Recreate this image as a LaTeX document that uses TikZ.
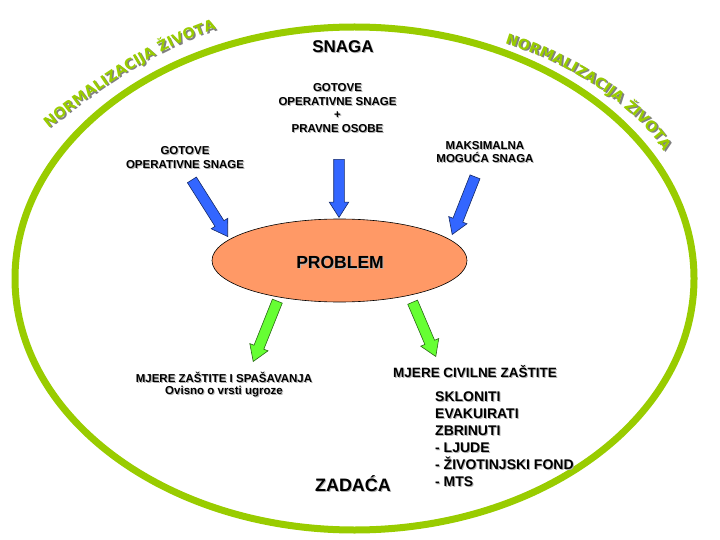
\documentclass[tikz,border=0pt]{standalone}
\usepackage{fontspec}
\setmainfont{Liberation Sans}
\newfontfamily\heavyfont{DejaVu Sans}
\usetikzlibrary{shapes.geometric,shapes.arrows,decorations.text}
\definecolor{ringgreen}{HTML}{99CC00}
\definecolor{probfill}{HTML}{FF9966}
\definecolor{arrblue}{HTML}{3366FF}
\definecolor{arrgreen}{HTML}{66FF33}
\newcommand{\curvefont}{\heavyfont\fontsize{14.5}{14.5}\selectfont\bfseries}
% text with a light drop shadow
\newcommand{\shlabel}[4][]{%
  \node[#1, text=black!30, xshift=1pt, yshift=-1pt] at (#3) {#4};
  \node[#1] (#2) at (#3) {#4};}

\begin{document}
\begin{tikzpicture}[x=1pt, y=-1pt,
  lbl/.style={font=\fontsize{11.5}{13.5}\selectfont\bfseries, align=center, inner sep=0pt},
  big/.style={font=\fontsize{#1}{#1}\selectfont\bfseries, inner sep=0pt},
  barrow/.style={single arrow, draw=#1!40!black, fill=#1, line width=0.6pt, inner sep=0pt, inner ysep=5pt,
    single arrow head extend=4.5pt, single arrow tip angle=65, anchor=tip},
  ringtext/.style={decorate, decoration={text along path, text align=center, text color=#1,
    text={|\curvefont|NORMALIZACIJA ŽIVOTA}}}]
\useasboundingbox (0,0) rectangle (720,540);
% outer ring
\draw[ringgreen, line width=7pt] (354.5,278.5) ellipse [x radius=339.5pt, y radius=251.5pt];
\path[ringtext=black!50] (45.5,133.5) .. controls (92,96) and (150,52) .. (223.5,28.5);
\path[ringtext=ringgreen] (44,132) .. controls (90,95) and (150,50) .. (222,27);
\path[ringtext=black!50] (505.5,44.5) .. controls (562,61) and (632,101) .. (666.5,153.5);
\path[ringtext=ringgreen] (504,43) .. controls (560,60) and (630,100) .. (665,152);
% problem
\node[ellipse, draw=black, fill=probfill, line width=0.6pt, minimum width=255pt, minimum height=83pt] (prob) at (339.5,260.5) {};
\shlabel[big=17.5]{probtxt}{340,262}{PROBLEM}
% arrows in and out
\node[barrow=arrblue, rotate=-57.7, minimum height=67pt] (inL) at (228,237) {};
\node[barrow=arrblue, rotate=-90, minimum height=58pt] (inM) at (339,218) {};
\node[barrow=arrblue, rotate=-111.6, minimum height=62pt] (inR) at (452,235) {};
\node[barrow=arrgreen, rotate=-111.8, minimum height=65pt] (outL) at (253,362) {};
\node[barrow=arrgreen, rotate=-66.9, minimum height=59pt] (outR) at (436,357) {};
% labels
\shlabel[big=17]{snaga}{343,47}{SNAGA}
\shlabel[lbl]{ready}{337.5,108}{GOTOVE\\OPERATIVNE SNAGE\\+\\PRAVNE OSOBE}
\shlabel[lbl]{readyL}{185,157.5}{GOTOVE\\OPERATIVNE SNAGE}
\shlabel[lbl]{maxs}{485,152}{MAKSIMALNA\\MOGUĆA SNAGA}
\shlabel[lbl, font=\fontsize{11.5}{12}\selectfont\bfseries]{protect}{224,384.5}{MJERE ZAŠTITE I SPAŠAVANJA\\Ovisno o vrsti ugroze}
\shlabel[big=13.5]{civil}{475,372}{MJERE CIVILNE ZAŠTITE}
\shlabel[big=14, font=\fontsize{14}{17}\selectfont\bfseries, align=left, anchor=north west]{tasks}{435,392}{SKLONITI\\EVAKUIRATI\\ZBRINUTI\\- LJUDE\\- ŽIVOTINJSKI FOND\\- MTS}
\shlabel[big=18]{zadaca}{353,484}{ZADAĆA}
\end{tikzpicture}
\end{document}
